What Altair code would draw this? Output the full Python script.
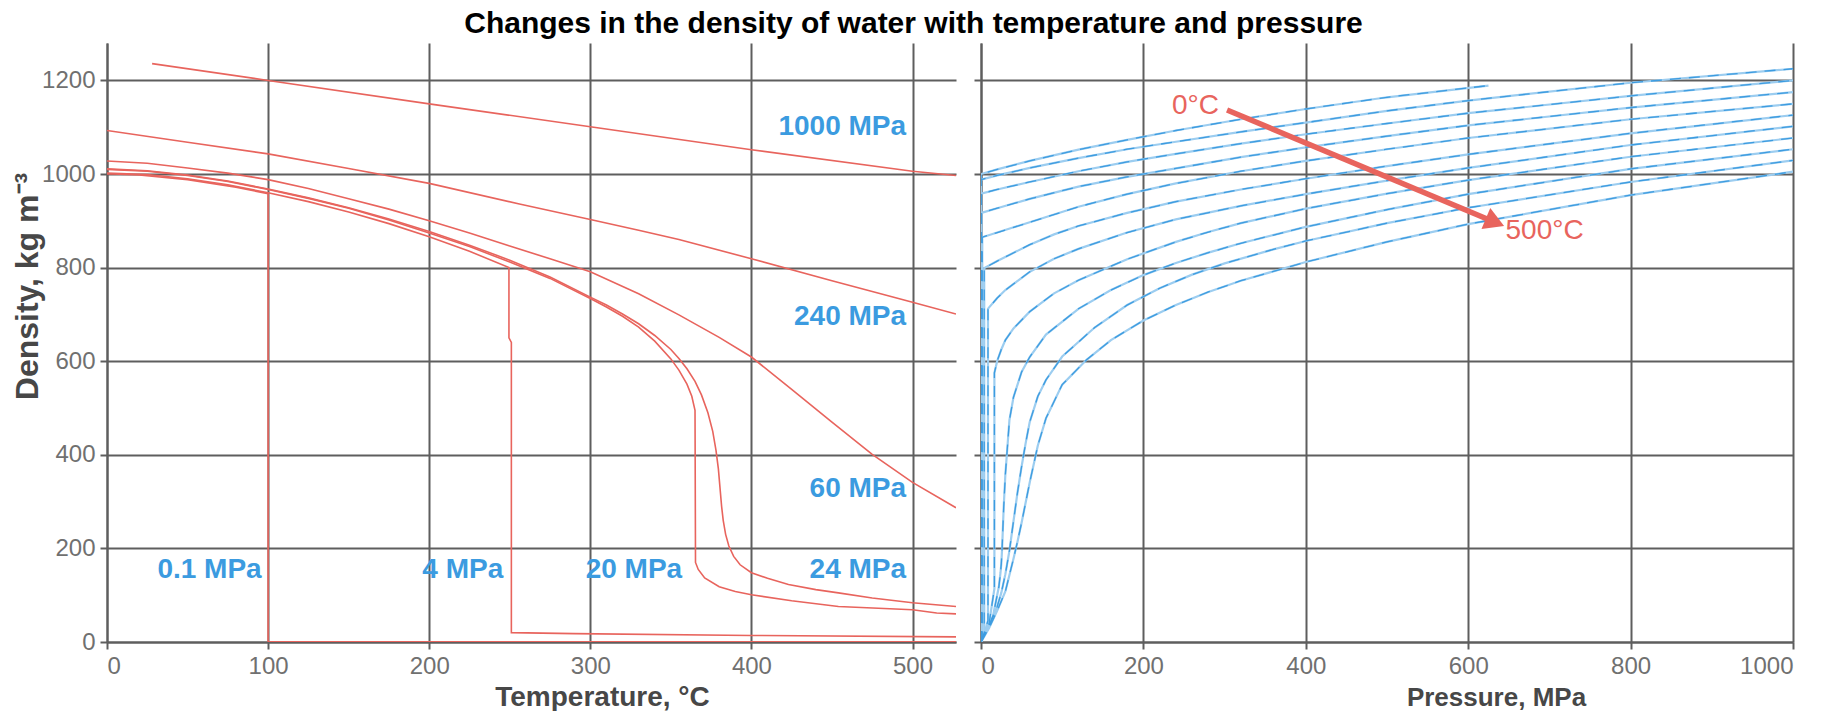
import altair as alt
import pandas as pd

# ---------------- Isobars: density (kg m-3) against temperature (°C) ----------------
T_01 = [0, 4, 20, 50, 80, 100, 100, 150, 300, 527]
D_01 = [1000, 1000, 998, 988, 972, 958, 0.6, 0.5, 0.4, 0.3]

T_4 = [0, 25, 50, 75, 100, 125, 150, 175, 200, 225, 249.5, 249.5, 251, 251, 290, 400, 527]
D_4 = [1002, 999, 990, 977, 960, 941, 919, 894, 866, 835, 800, 650, 640, 20, 18, 14, 11]

T_20 = [0, 25, 50, 75, 100, 125, 150, 175, 200, 225, 250, 275, 300, 310, 320, 330, 340, 350, 355, 360, 363, 365,
        365.3, 367, 371, 380, 390, 400, 425, 454, 500, 515, 527]
D_20 = [1010, 1006, 997, 984, 967, 948, 927, 902, 874, 845, 812, 777, 734, 716, 696, 673, 643, 605, 581, 551, 525, 495,
        170, 155, 137, 118, 108, 101, 88, 76, 69, 62, 60]

T_24 = [0, 25, 50, 75, 100, 125, 150, 175, 200, 225, 250, 275, 300, 310, 320, 330, 340, 350, 355, 360, 365, 369, 373,
        376, 378, 379.5, 380.5, 381.5, 382.5, 384, 386, 389, 393, 400, 410, 423, 440, 454, 475, 500, 527]
D_24 = [1011, 1007, 998, 985, 968, 949, 928, 904, 877, 848, 816, 780, 737, 720, 701, 680, 655, 625, 606, 584, 557, 528,
        490, 450, 410, 370, 330, 290, 260, 230, 205, 183, 165, 148, 136, 123, 112, 105, 94, 84, 76]

T_60 = [0, 25, 50, 75, 100, 125, 150, 175, 200, 225, 250, 275, 300, 330, 355, 380, 400, 425, 450, 475, 500, 527]
D_60 = [1028, 1023, 1013, 1002, 988, 969, 947, 925, 900, 874, 846, 819, 791, 744, 699, 651, 609, 540, 470, 401, 341, 287]

T_240 = [0, 50, 100, 150, 200, 256, 300, 330, 355, 400, 450, 500, 527]
D_240 = [1093, 1068, 1043, 1012, 980, 936, 903, 880, 860, 819, 772, 726, 701]

T_1000 = [28, 100, 200, 300, 400, 500, 527]
D_1000 = [1236, 1200, 1150, 1101, 1052, 1006, 997]

isobar_labels = ["1000 MPa", "240 MPa", "60 MPa", "24 MPa", "20 MPa", "4 MPa", "0.1 MPa"]
isobar_label_T = [496, 496, 496, 496, 357, 246, 96]
isobar_label_D = [1100, 694, 326, 153, 153, 153, 153]

# ---------------- Isotherms: density (kg m-3) against pressure (MPa) ----------------
P_0 = [0, 0.01, 20, 60, 120, 180, 240, 320, 400, 500, 625]
R_0 = [0, 1000, 1010, 1028, 1052, 1073, 1093, 1117, 1139, 1164, 1189]

P_50 = [0, 0.012, 20, 60, 120, 180, 240, 320, 400, 500, 600, 800, 1000]
R_50 = [0, 988, 997, 1013, 1034, 1053, 1069, 1090, 1110, 1135, 1157, 1195, 1225]

P_100 = [0, 0.1, 0.1, 20, 60, 120, 180, 240, 320, 400, 500, 600, 800, 1000]
R_100 = [0, 0.6, 958, 967, 983, 1006, 1026, 1043, 1065, 1085, 1108, 1130, 1167, 1200]

P_150 = [0, 0.48, 0.48, 20, 60, 120, 180, 240, 320, 400, 500, 600, 800, 1000]
R_150 = [0, 2.5, 917, 927, 947, 973, 994, 1012, 1036, 1057, 1081, 1104, 1142, 1175]

P_200 = [0, 1.55, 1.55, 20, 60, 120, 180, 240, 320, 400, 500, 600, 800, 1000]
R_200 = [0, 7.9, 865, 875, 897, 930, 957, 980, 1006, 1028, 1053, 1077, 1117, 1150]

P_250 = [0, 3.97, 3.97, 20, 60, 90, 120, 180, 240, 320, 400, 500, 600, 800, 1000]
R_250 = [0, 20, 799, 814, 849, 871, 889, 917, 941, 967, 990, 1017, 1042, 1087, 1126]

P_300 = [0, 4, 8.6, 8.6, 10, 20, 30, 60, 90, 120, 180, 240, 320, 400, 500, 600, 800, 1000]
R_300 = [0, 17, 46, 712, 715, 735, 752, 791, 819, 840, 875, 903, 932, 957, 986, 1013, 1062, 1102]

P_350 = [0, 5, 10, 16.5, 16.5, 20, 25, 30, 40, 60, 90, 120, 180, 240, 280, 320, 400, 500, 600, 800, 1000]
R_350 = [0, 18, 40, 114, 575, 601, 625, 645, 670, 706, 745, 773, 818, 855, 876, 895, 926, 958, 987, 1037, 1077]

P_400 = [0, 10, 15, 20, 22, 24, 25, 26, 28, 30, 35, 40, 50, 60, 80, 120, 160, 200, 240, 280, 320, 400, 500,
         600, 800, 1000]
R_400 = [0, 36, 57, 101, 118, 148, 167, 200, 290, 358, 474, 523, 577, 609, 657, 712, 752, 784, 810, 832, 852, 887,
         924, 957, 1011, 1053]

P_450 = [0, 10, 20, 25, 30, 35, 40, 45, 50, 55, 60, 70, 80, 100, 140, 180, 220, 260, 300, 360, 400, 500, 600,
         800, 1000]
R_450 = [0, 33, 76, 105, 145, 195, 258, 320, 375, 425, 470, 525, 560, 610, 672, 720, 756, 785, 809, 839, 857, 895,
         928, 983, 1029]

P_500 = [0, 10, 20, 30, 40, 45, 50, 55, 60, 70, 80, 100, 130, 160, 200, 240, 280, 320, 400, 500, 600, 800, 1000]
R_500 = [0, 30, 67, 108, 178, 215, 255, 298, 341, 420, 478, 550, 603, 645, 687, 720, 748, 772, 812, 855, 893, 955,
         1005]

# Arrow from the 0 °C end to the 500 °C end of the isotherm family
arrow_P = [303, 633]
arrow_D = [1137, 897]
arrow_labels = ["0°C", "500°C"]
arrow_label_P = [293, 646]
arrow_label_D = [1145, 878]

RED = "#e8645d"
BLUE_LIGHT = "#9ccdf0"
BLUE = "#3d9ce0"
LABEL_BLUE = "#3b9be0"
GRID = "#5e5e5e"
FONT = "Liberation Sans"

T_MAX = 527
D_MAX = 1280


def long_table(pairs, xname, yname):
    rows = []
    for name, xs, ys in pairs:
        for i, (x, y) in enumerate(zip(xs, ys)):
            rows.append({"series": name, xname: x, yname: y, "seq": i})
    return pd.DataFrame(rows)


isobars = long_table(
    [("0.1", T_01, D_01), ("4", T_4, D_4), ("20", T_20, D_20), ("24", T_24, D_24),
     ("60", T_60, D_60), ("240", T_240, D_240), ("1000", T_1000, D_1000)],
    "T", "D")

isotherms = long_table(
    [("0", P_0, R_0), ("50", P_50, R_50), ("100", P_100, R_100), ("150", P_150, R_150),
     ("200", P_200, R_200), ("250", P_250, R_250), ("300", P_300, R_300),
     ("350", P_350, R_350), ("400", P_400, R_400), ("450", P_450, R_450),
     ("500", P_500, R_500)],
    "P", "D")

iso_labels = pd.DataFrame({"T": isobar_label_T, "D": isobar_label_D, "label": isobar_labels})
arrow_df = pd.DataFrame({"P": [arrow_P[0]], "D": [arrow_D[0]], "P2": [arrow_P[1]], "D2": [arrow_D[1]]})
head_df = pd.DataFrame({"P": [arrow_P[1]], "D": [arrow_D[1]]})
arrow_text = pd.DataFrame({"P": arrow_label_P, "D": arrow_label_D, "label": arrow_labels,
                           "align": ["right", "left"]})

axis_common = dict(
    grid=True, gridColor=GRID, gridWidth=2, gridOpacity=1,
    domainColor=GRID, domainWidth=2, tickColor=GRID, tickWidth=2, tickSize=7,
    labelFont=FONT, labelFontSize=24, labelColor="#707070", labelPadding=5, format="d",
    titleFont=FONT, titleFontWeight="bold", titleColor="#474747",
)

y_scale = alt.Scale(domain=[0, D_MAX], nice=False, zero=False)

# ---------------- Left panel ----------------
x_left = alt.X("T:Q", scale=alt.Scale(domain=[0, T_MAX], nice=False),
               axis=alt.Axis(values=[0, 100, 200, 300, 400, 500], title="Temperature, °C",
                             titleFontSize=28, titleX=495, titleY=63,
                             titleBaseline="alphabetic", **axis_common))
y_left = alt.Y("D:Q", scale=y_scale,
               axis=alt.Axis(values=[0, 200, 400, 600, 800, 1000, 1200], title="Density, kg m⁻³",
                             titleFontSize=32, titleAngle=270, titleX=-80, titleY=243,
                             titleBaseline="middle", titleAlign="center", **axis_common))

left_lines = alt.Chart(isobars).mark_line(color=RED, strokeWidth=1.6, clip=True).encode(
    x=x_left, y=y_left, detail="series:N", order="seq:Q")

left_text = alt.Chart(iso_labels).mark_text(
    align="right", baseline="middle", font=FONT, fontSize=28, fontWeight="bold", color=LABEL_BLUE
).encode(x="T:Q", y="D:Q", text="label:N")

left = alt.layer(left_lines, left_text).properties(width=849, height=599)

# ---------------- Right panel ----------------
x_right = alt.X("P:Q", scale=alt.Scale(domain=[0, 1000], nice=False),
                axis=alt.Axis(values=[0, 200, 400, 600, 800, 1000], title="Pressure, MPa",
                              titleFontSize=26, titleX=515, titleY=63,
                              titleBaseline="alphabetic", **axis_common))
y_right = alt.Y("D:Q", scale=y_scale,
                axis=alt.Axis(values=[0, 200, 400, 600, 800, 1000, 1200], labels=False,
                              title=None, **axis_common))

# light blue base stroke with a darker dashed stroke on top
right_base = alt.Chart(isotherms).mark_line(color=BLUE_LIGHT, strokeWidth=2.2, clip=True).encode(
    x=x_right, y=y_right, detail="series:N", order="seq:Q")
right_dash = alt.Chart(isotherms).mark_line(color=BLUE, strokeWidth=1.3, strokeDash=[11, 8],
                                            clip=True).encode(
    x="P:Q", y="D:Q", detail="series:N", order="seq:Q")

arrow_shaft = alt.Chart(arrow_df).mark_rule(color=RED, strokeWidth=5.5, strokeCap="butt").encode(
    x="P:Q", y="D:Q", x2="P2:Q", y2="D2:Q")

arrow_head = alt.Chart(head_df).mark_point(
    shape="triangle-right", filled=True, color=RED, opacity=1, size=520, angle=22.6
).encode(x="P:Q", y="D:Q")

arrow_lbl_l = alt.Chart(arrow_text).transform_filter(alt.datum.align == "right").mark_text(
    align="right", baseline="middle", font=FONT, fontSize=28, color=RED
).encode(x="P:Q", y="D:Q", text="label:N")

arrow_lbl_r = alt.Chart(arrow_text).transform_filter(alt.datum.align == "left").mark_text(
    align="left", baseline="middle", font=FONT, fontSize=28, color=RED
).encode(x="P:Q", y="D:Q", text="label:N")

right = alt.layer(right_base, right_dash, arrow_shaft, arrow_head, arrow_lbl_l, arrow_lbl_r).properties(
    width=812, height=599)

chart = alt.hconcat(left, right, spacing=25, bounds="flush").properties(
    title=alt.TitleParams("Changes in the density of water with temperature and pressure",
                          font=FONT, fontSize=30, fontWeight="bold", color="black",
                          anchor="middle", offset=4, dx=11),
    padding={"left": 11, "top": 9, "right": 4, "bottom": 0},
    background="white",
).configure_view(stroke=None)

chart.save("out.html", embed_options={"renderer": "svg", "actions": False})
